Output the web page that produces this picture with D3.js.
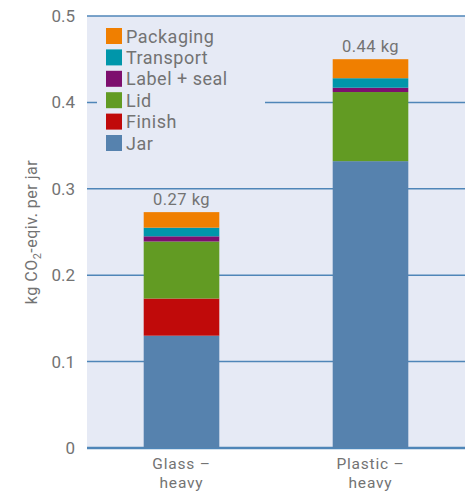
<!DOCTYPE html>
<html>
<head>
<meta charset="utf-8">
<script src="https://cdn.jsdelivr.net/npm/d3@7"></script>
<style>
  body { margin: 0; background: #fff; }
  text { font-family: Roboto, "DejaVu Sans", sans-serif; fill: #737373; }
</style>
</head>
<body>
<div id="chart"></div>
<script>
// data
var categories = ["Glass – heavy", "Plastic – heavy"];
var categoryLines = [["Glass –", "heavy"], ["Plastic –", "heavy"]];
var components = ["Jar", "Finish", "Lid", "Label + seal", "Transport", "Packaging"];
var jar = [0.130, 0.332];
var finish = [0.043, 0];
var lid = [0.066, 0.080];
var labelSeal = [0.006, 0.005];
var transport = [0.010, 0.011];
var packaging = [0.018, 0.022];
var totalLabels = ["0.27 kg", "0.44 kg"];
var yTicks = [0, 0.1, 0.2, 0.3, 0.4, 0.5];

var colors = {
  "Jar": "#5682ae",
  "Finish": "#c00a0a",
  "Lid": "#629b23",
  "Label + seal": "#7d0f6e",
  "Transport": "#0096aa",
  "Packaging": "#f07f00"
};

var width = 471, height = 491;
var plotLeft = 87, plotRight = 465, plotTop = 16, plotBottom = 448;

var svg = d3.select("#chart").append("svg")
    .attr("width", width)
    .attr("height", height);

// build rows for the stack
var rows = categories.map(function(c, i) {
  return {
    cat: c,
    "Jar": jar[i], "Finish": finish[i], "Lid": lid[i],
    "Label + seal": labelSeal[i], "Transport": transport[i], "Packaging": packaging[i]
  };
});

var x = d3.scaleBand()
    .domain(categories)
    .range([plotLeft, plotRight])
    .paddingInner(0.6)
    .paddingOuter(0.3);

var y = d3.scaleLinear()
    .domain([0, 0.5])
    .range([plotBottom, plotTop]);

// plot background
svg.append("rect")
    .attr("x", plotLeft).attr("y", plotTop)
    .attr("width", plotRight - plotLeft).attr("height", plotBottom - plotTop)
    .attr("fill", "#e6eaf5");

// gridlines
svg.append("g").selectAll("line")
    .data(yTicks)
    .enter().append("line")
    .attr("x1", plotLeft).attr("x2", plotRight)
    .attr("y1", function(d) { return y(d); })
    .attr("y2", function(d) { return y(d); })
    .attr("stroke", "#4f86b8")
    .attr("stroke-width", function(d) { return d === 0 ? 2.5 : 1.5; });

// y axis labels
var yAxis = d3.axisLeft(y).tickValues(yTicks).tickSize(0).tickPadding(12)
    .tickFormat(function(d) { return d === 0 ? "0" : d3.format(".1f")(d); });
var yg = svg.append("g")
    .attr("transform", "translate(" + plotLeft + ",0)")
    .call(yAxis);
yg.select(".domain").remove();
yg.selectAll("text").attr("font-size", 17).attr("fill", null);

// y title
svg.append("text")
    .attr("transform", "translate(37," + ((plotTop + plotBottom) / 2) + ")rotate(-90)")
    .attr("text-anchor", "middle")
    .attr("font-size", 16)
    .style("letter-spacing", "0.5px")
    .html('kg CO<tspan font-size="11" dy="4">2</tspan><tspan dy="-4">-eqiv. per jar</tspan>');

// legend box covers the grid
var legend = svg.append("g");
legend.append("rect")
    .attr("x", 97).attr("y", 22)
    .attr("width", 168).attr("height", 134)
    .attr("fill", "#e6eaf5");

var legendOrder = components.slice().reverse();
legendOrder.forEach(function(k, i) {
  var ly = 28 + i * 21.4;
  legend.append("rect")
    .attr("x", 106).attr("y", ly)
    .attr("width", 16).attr("height", 16)
    .attr("fill", colors[k]);
  legend.append("text")
    .attr("x", 126).attr("y", ly + 14.5)
    .attr("font-size", 18)
    .style("letter-spacing", "0.5px")
    .text(k);
});

// stacked bars
var stack = d3.stack().keys(components);
var series = stack(rows);

svg.append("g").selectAll("g")
    .data(series)
    .enter().append("g")
    .attr("fill", function(s) { return colors[s.key]; })
    .selectAll("rect")
    .data(function(s) { return s; })
    .enter().append("rect")
    .attr("x", function(d) { return x(d.data.cat); })
    .attr("width", x.bandwidth())
    .attr("y", function(d) { return y(d[1]); })
    .attr("height", function(d) { return y(d[0]) - y(d[1]); });

// total labels above bars
var topSeries = series[series.length - 1];
svg.append("g").selectAll("text")
    .data(topSeries)
    .enter().append("text")
    .attr("x", function(d) { return x(d.data.cat) + x.bandwidth() / 2; })
    .attr("y", function(d) { return y(d[1]) - 7; })
    .attr("text-anchor", "middle")
    .attr("font-size", 16.5)
    .style("letter-spacing", "0.5px")
    .text(function(d, i) { return totalLabels[i]; });

// category labels, one text per line
categories.forEach(function(c, i) {
  categoryLines[i].forEach(function(line, j) {
    svg.append("text")
      .attr("x", x(c) + x.bandwidth() / 2)
      .attr("y", 469 + j * 18.5)
      .attr("text-anchor", "middle")
      .attr("font-size", 15.5)
      .style("letter-spacing", "0.8px")
      .text(line);
  });
});
</script>
</body>
</html>
